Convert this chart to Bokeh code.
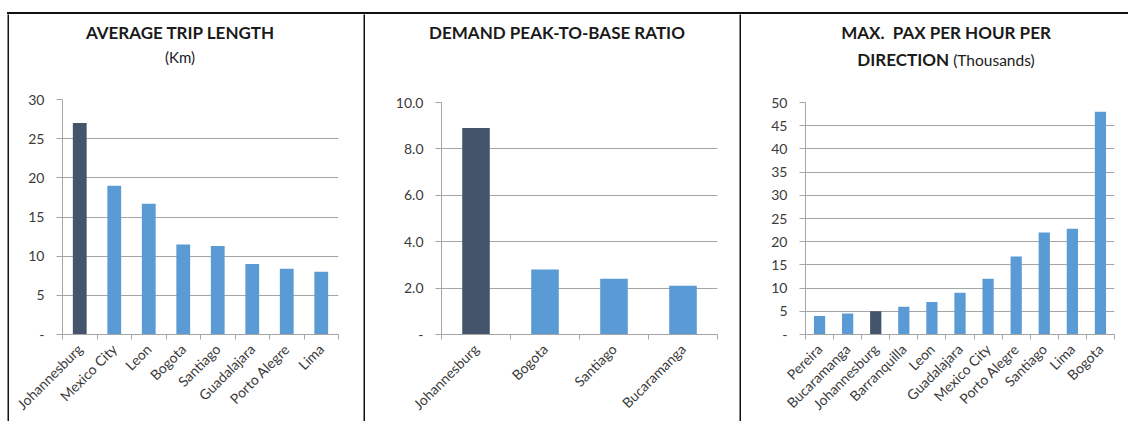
from bokeh.plotting import figure
from bokeh.layouts import row, column
from bokeh.models import ColumnDataSource, FixedTicker, Spacer, Div
from bokeh.embed import file_html
from bokeh.resources import INLINE
from math import pi

# ---- data ----
trip_cities = ["Johannesburg", "Mexico City", "Leon", "Bogota", "Santiago",
               "Guadalajara", "Porto Alegre", "Lima"]
trip_km = [27.0, 19.0, 16.7, 11.5, 11.3, 9.0, 8.4, 8.0]

ratio_cities = ["Johannesburg", "Bogota", "Santiago", "Bucaramanga"]
ratio_values = [8.9, 2.8, 2.4, 2.1]

pax_cities = ["Pereira", "Bucaramanga", "Johannesburg", "Barranquilla", "Leon",
              "Guadalajara", "Mexico City", "Porto Alegre", "Santiago", "Lima",
              "Bogota"]
pax_thousands = [4.0, 4.5, 5.0, 6.0, 7.0, 9.0, 12.0, 16.8, 22.0, 22.8, 48.0]

trip_ticks = [0, 5, 10, 15, 20, 25, 30]
trip_tick_labels = ["-", "5", "10", "15", "20", "25", "30"]
ratio_ticks = [0, 2, 4, 6, 8, 10]
ratio_tick_labels = ["-", "2.0", "4.0", "6.0", "8.0", "10.0"]
pax_ticks = [0, 5, 10, 15, 20, 25, 30, 35, 40, 45, 50]
pax_tick_labels = ["-", "5", "10", "15", "20", "25", "30", "35", "40", "45", "50"]

HIGHLIGHT = "Johannesburg"

# ---- style ----
FONT = "Lato"
DARK = "#44546A"
LIGHT = "#5B9BD5"
GRID = "#A5A5A5"
TEXT = "#3A3A3A"
TITLE = "#1A1A1A"
RULE = "#111111"
HEADER_H = 70
CHART_H = 337
PANEL_H = HEADER_H + CHART_H


def bar_chart(cities, values, ticks, tick_labels, width, borders):
    left, right, top, bottom = borders
    n = len(cities)
    xs = list(range(n))
    colors = [DARK if c == HIGHLIGHT else LIGHT for c in cities]
    src = ColumnDataSource(dict(x=xs, top=values, color=colors))

    p = figure(width=width, height=CHART_H, output_backend="svg",
               toolbar_location=None, tools="",
               x_range=(-0.5, n - 0.5), y_range=(ticks[0], ticks[-1]),
               min_border_left=left, min_border_right=right,
               min_border_top=top, min_border_bottom=bottom)
    p.outline_line_color = None
    p.background_fill_color = "white"
    p.border_fill_color = "white"

    p.vbar(x="x", top="top", bottom=0, width=0.4, color="color",
           line_color=None, source=src)

    # y axis
    ya = p.yaxis[0]
    ya.ticker = FixedTicker(ticks=ticks)
    ya.major_label_overrides = {t: s for t, s in zip(ticks, tick_labels)}
    ya.axis_line_color = GRID
    ya.major_tick_line_color = GRID
    ya.major_tick_in = 0
    ya.major_tick_out = 6
    ya.minor_tick_line_color = None
    ya.major_label_text_font = FONT
    ya.major_label_text_font_size = "14px"
    ya.major_label_text_color = TEXT
    ya.major_label_standoff = 12

    # x axis: names under the bars, tick marks between categories
    xa = p.xaxis[0]
    xa.ticker = FixedTicker(ticks=xs,
                            minor_ticks=[i - 0.5 for i in range(n + 1)])
    xa.major_label_overrides = {i: c for i, c in enumerate(cities)}
    xa.axis_line_color = GRID
    xa.major_tick_line_color = None
    xa.minor_tick_line_color = GRID
    xa.minor_tick_in = 0
    xa.minor_tick_out = 5
    xa.major_label_orientation = pi / 4
    xa.major_label_text_font = FONT
    xa.major_label_text_font_size = "14px"
    xa.major_label_text_color = TEXT
    xa.major_label_standoff = 6

    p.xgrid.grid_line_color = None
    p.ygrid.grid_line_color = GRID
    p.ygrid.ticker = FixedTicker(ticks=ticks)
    return p


def header(width, pad_left, lines):
    """Title block above a chart; lines are (html, margin_top, size, bold)."""
    inner = "".join(
        f'<div style="margin-top:{mt}px;line-height:20px;font-size:{size}px;'
        f'font-weight:{"bold" if bold else "normal"};white-space:nowrap;">{html}</div>'
        for html, mt, size, bold in lines)
    box = (f'<div style="box-sizing:border-box;width:{width}px;height:{HEADER_H}px;'
           f'padding-left:{max(pad_left, 0)}px;padding-right:{max(-pad_left, 0)}px;'
           f'padding-top:0.1px;text-align:center;font-family:{FONT};color:{TITLE};">'
           f'{inner}</div>')
    return Div(text=box, width=width, height=HEADER_H, margin=(0, 0, 0, 0))


def rule(width, height):
    r = figure(width=width, height=height, output_backend="svg",
               toolbar_location=None, tools="",
               x_axis_type=None, y_axis_type=None, min_border=0)
    r.outline_line_color = None
    r.grid.visible = False
    r.background_fill_color = RULE
    r.border_fill_color = RULE
    return r


c1 = bar_chart(trip_cities, trip_km, trip_ticks, trip_tick_labels,
               354, (53, 25, 15, 84))
c2 = bar_chart(ratio_cities, ratio_values, ratio_ticks, ratio_tick_labels,
               374, (76, 22, 18, 84))
c3 = bar_chart(pax_cities, pax_thousands, pax_ticks, pax_tick_labels,
               387, (64, 14, 18, 84))

h1 = header(354, -12, [("AVERAGE TRIP LENGTH", 9, 17, True),
                       ("(Km)", 4, 15, False)])
h2 = header(374, 10, [("DEMAND PEAK-TO-BASE RATIO", 9, 17, True)])
h3 = header(387, 23, [("MAX.&nbsp; PAX PER HOUR PER", 9, 17, True),
                      ('DIRECTION <span style="font-weight:normal;font-size:15.5px;">'
                       '(Thousands)</span>', 7, 17, True)])

top_rule = Div(text="", width=1121, height=2, margin=(0, 0, 0, 0),
               styles={"background-color": RULE})

panels = row(Spacer(width=7, height=PANEL_H), rule(2, PANEL_H),
             column(h1, c1, spacing=0), rule(2, PANEL_H),
             column(h2, c2, spacing=0), rule(2, PANEL_H),
             column(h3, c3, spacing=0), spacing=0)

layout = column(Spacer(width=1128, height=12),
                row(Spacer(width=7, height=2), top_rule, spacing=0),
                panels, spacing=0)

open("out.html", "w").write(file_html(layout, INLINE))
